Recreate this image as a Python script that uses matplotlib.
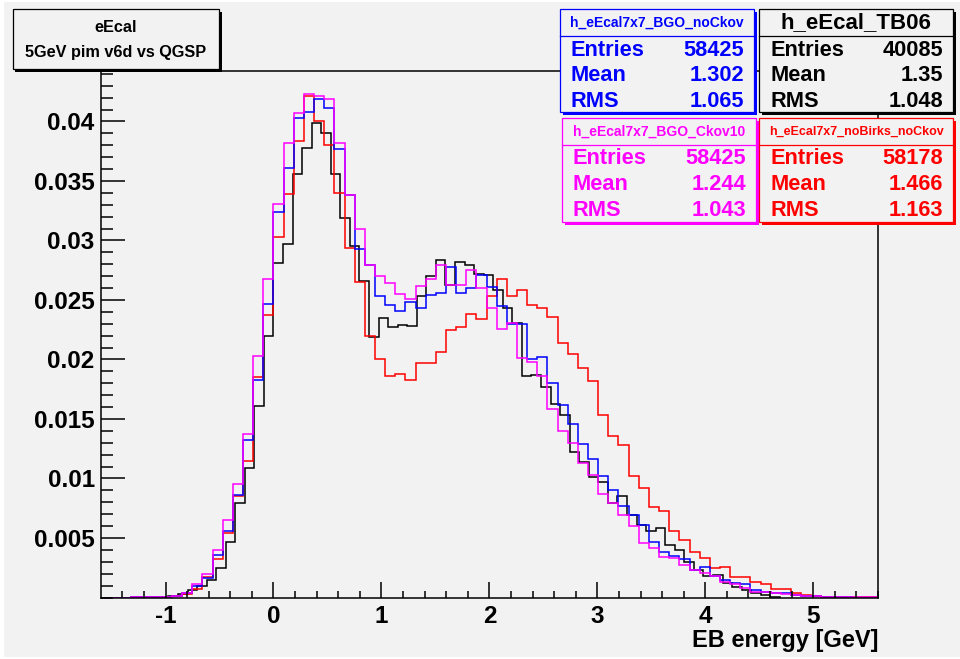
import numpy as np
import matplotlib.pyplot as plt
from matplotlib.patches import Rectangle
from matplotlib.ticker import FixedLocator, MultipleLocator

plt.rcParams['font.family'] = ['Liberation Sans', 'DejaVu Sans']
plt.rcParams['font.weight'] = 'bold'

# -----------------------------
# Histogram contents (normalised)
# -----------------------------
sim_first_edge = -1.598
sim_bin_width = 0.094
tb_first_edge = -1.062
tb_bin_width = 0.0885

bgo_nockov = [
    0, 0, 0, 0.00002, 0.00003, 0.00004, 0.00006, 0.00015, 0.0004, 0.00097,
    0.0016, 0.0036, 0.0056, 0.0086, 0.0132, 0.0183, 0.0247, 0.0324, 0.0361, 0.0403,
    0.0408, 0.0419, 0.0411, 0.0377, 0.0338, 0.0293, 0.0279, 0.0253, 0.0246, 0.0241,
    0.0248, 0.0243, 0.0254, 0.0256, 0.0278, 0.0256, 0.0260, 0.0271, 0.0261, 0.0245,
    0.0230, 0.0230, 0.0200, 0.0202, 0.0180, 0.0162, 0.0146, 0.0129, 0.0116, 0.0102,
    0.0090, 0.0077, 0.0069, 0.0061, 0.0047, 0.0038, 0.0035, 0.0032, 0.0023, 0.0026,
    0.0018, 0.0015, 0.0012, 0.0011, 0.00063, 0.0005, 0.0004, 0.0004, 0.0002, 0.0001,
    0.0001, 0.00005, 0.00003, 0.00002, 0, 0, 0,
]

bgo_ckov10 = [
    0, 0, 0, 0.00002, 0.00003, 0.00004, 0.00006, 0.00015, 0.00035, 0.0011,
    0.00195, 0.0040, 0.0065, 0.0095, 0.0137, 0.0203, 0.0268, 0.0331, 0.0382, 0.0407,
    0.0423, 0.0421, 0.0419, 0.0382, 0.0338, 0.0310, 0.0279, 0.0270, 0.0264, 0.0255,
    0.0251, 0.0262, 0.0268, 0.0279, 0.0263, 0.0263, 0.0275, 0.0260, 0.0243, 0.0226,
    0.0231, 0.0201, 0.0198, 0.0186, 0.0158, 0.0140, 0.0130, 0.0113, 0.0103, 0.0087,
    0.0079, 0.0069, 0.0060, 0.0046, 0.0042, 0.0034, 0.0033, 0.0027, 0.0023, 0.0021,
    0.0018, 0.0013, 0.0011, 0.0008, 0.0005, 0.0005, 0.00035, 0.0003, 0.0002, 0.00015,
    0.0001, 0.00006, 0.00004, 0.00003, 0.00002, 0.00002, 0.00001,
]

nobirks_nockov = [
    0, 0, 0, 0.00001, 0.00002, 0.00003, 0.00005, 0.00013, 0.0003, 0.0007,
    0.00175, 0.0032, 0.0054, 0.0085, 0.0115, 0.0185, 0.0237, 0.0303, 0.0339, 0.0384,
    0.0421, 0.0400, 0.0380, 0.0340, 0.0294, 0.0265, 0.0220, 0.0200, 0.0186, 0.0188,
    0.0183, 0.0197, 0.0197, 0.0206, 0.0225, 0.0227, 0.0238, 0.0234, 0.0253, 0.0268,
    0.0253, 0.0258, 0.0246, 0.0243, 0.0236, 0.0214, 0.0205, 0.0193, 0.0182, 0.0153,
    0.0136, 0.0128, 0.0102, 0.0092, 0.0076, 0.0073, 0.0056, 0.0048, 0.0038, 0.0033,
    0.0025, 0.0026, 0.0017, 0.0017, 0.0013, 0.0011, 0.0007, 0.00075, 0.00035, 0.0002,
    0.0001, 0.00004, 0.00002, 0.00001, 0.00001, 0.00001, 0.00001,
]

tb06 = [
    0.00005, 0.00013, 0.0003, 0.0006, 0.00097, 0.0015, 0.0025, 0.0047, 0.0079, 0.0109,
    0.0161, 0.0220, 0.0281, 0.0297, 0.0356, 0.0378, 0.0399, 0.0390, 0.0356, 0.0319,
    0.0295, 0.0266, 0.0219, 0.0235, 0.0227, 0.0229, 0.0228, 0.0253, 0.0270, 0.0284,
    0.0263, 0.0282, 0.0279, 0.0272, 0.0271, 0.0258, 0.0243, 0.0231, 0.0186, 0.0187,
    0.0177, 0.0163, 0.0153, 0.0122, 0.0114, 0.0101, 0.0097, 0.0079, 0.0085, 0.0069,
    0.0061, 0.0056, 0.0058, 0.0044, 0.0040, 0.0030, 0.0023, 0.0018, 0.0019, 0.0012,
    0.00086, 0.00063, 0.00035, 0.0002, 0.00005,
]

# stat boxes
stat_names = ["h_eEcal7x7_BGO_noCkov", "h_eEcal_TB06",
              "h_eEcal7x7_BGO_Ckov10", "h_eEcal7x7_noBirks_noCkov"]
stat_entries = ["58425", "40085", "58425", "58178"]
stat_means = ["1.302", "1.35", "1.244", "1.466"]
stat_rms = ["1.065", "1.048", "1.043", "1.163"]
stat_colors = ["#0000ff", "#000000", "#ff00ff", "#ff0000"]

y_ticks = [0.005, 0.01, 0.015, 0.02, 0.025, 0.03, 0.035, 0.04]
y_ticklabels = ["0.005", "0.01", "0.015", "0.02", "0.025", "0.03", "0.035", "0.04"]
x_ticks = [-1, 0, 1, 2, 3, 4, 5]

# -----------------------------
# Figure
# -----------------------------
W, H = 960, 659
BG = "#f2f2f2"
fig = plt.figure(figsize=(W / 100, H / 100), dpi=100, facecolor="white")


def fx(px):
    return px / W


def fy(py):
    return 1 - py / H


# grey canvas
fig.patches.append(Rectangle((fx(4), fy(657)), fx(956), 655 / H,
                             transform=fig.transFigure, facecolor=BG,
                             edgecolor="none", zorder=-10))

ax = fig.add_axes([fx(101), fy(597.5), fx(878 - 101), (597.5 - 71) / H])
ax.set_facecolor(BG)

sim_edges = sim_first_edge + sim_bin_width * np.arange(len(bgo_nockov) + 1)
tb_edges = tb_first_edge + tb_bin_width * np.arange(len(tb06) + 1)

ax.stairs(tb06, tb_edges, color="black", linewidth=1.1)
ax.stairs(nobirks_nockov, sim_edges, color="#ff0000", linewidth=1.1)
ax.stairs(bgo_nockov, sim_edges, color="#0000ff", linewidth=1.1)
ax.stairs(bgo_ckov10, sim_edges, color="#ff00ff", linewidth=1.1)

ax.set_xlim(-1.598, 5.6)
ax.set_ylim(0, 0.04424)

for s in ax.spines.values():
    s.set_linewidth(1.1)

ax.yaxis.set_major_locator(FixedLocator(y_ticks))
ax.set_yticklabels(y_ticklabels)
ax.yaxis.set_minor_locator(MultipleLocator(0.001))
ax.xaxis.set_major_locator(FixedLocator(x_ticks))
ax.set_xticklabels([str(v) for v in x_ticks])
ax.xaxis.set_minor_locator(MultipleLocator(0.2))

ax.tick_params(axis="y", which="major", direction="in", length=17, width=1.1,
               pad=4.5, labelsize=17.5)
ax.tick_params(axis="y", which="minor", direction="in", length=8.5, width=1.1)
ax.tick_params(axis="x", which="major", direction="in", length=11.4, width=1.1,
               pad=5.5, labelsize=17.5)
ax.tick_params(axis="x", which="minor", direction="in", length=5.4, width=1.1)
for lab in ax.get_xticklabels() + ax.get_yticklabels():
    lab.set_fontweight("bold")

ax.set_xlabel("EB energy [GeV]", fontsize=17, fontweight="bold")
ax.xaxis.set_label_coords(1.0, -(641 - 597.5) / (597.5 - 71))
ax.xaxis.label.set_ha("right")
ax.xaxis.label.set_va("center")


# -----------------------------
# Boxes
# -----------------------------
def draw_box(x0, y0, x1, y1, color, shadow=3):
    fig.patches.append(Rectangle((fx(x0 + shadow), fy(y1 + shadow)), fx(x1 - x0), (y1 - y0) / H,
                                 transform=fig.transFigure, facecolor=color,
                                 edgecolor="none", zorder=5))
    fig.patches.append(Rectangle((fx(x0), fy(y1)), fx(x1 - x0), (y1 - y0) / H,
                                 transform=fig.transFigure, facecolor=BG,
                                 edgecolor=color, linewidth=0.9, zorder=6))


# title pave
draw_box(12.7, 9.3, 219, 69, "black", shadow=2.5)
fig.text(fx(116), fy(27), "eEcal", ha="center", va="center", fontsize=11.7,
         fontweight="bold", zorder=7)
fig.text(fx(116), fy(53), "5GeV pim v6d vs QGSP", ha="center", va="center",
         fontsize=11.7, fontweight="bold", zorder=7)

box_x = [(560, 754), (759, 953), (562, 756), (759, 953)]
box_y = [(9.3, 112), (9.3, 112), (118, 222), (118, 222)]
title_sizes = [10, 16, 10, 9]

for i in range(4):
    x0, x1 = box_x[i]
    y0, y1 = box_y[i]
    c = stat_colors[i]
    draw_box(x0, y0, x1, y1, c)
    sep = y0 + 26.5
    fig.add_artist(plt.Line2D([fx(x0), fx(x1)], [fy(sep), fy(sep)], color=c,
                              linewidth=0.9, transform=fig.transFigure, zorder=7))
    fig.text(fx((x0 + x1) / 2), fy(y0 + 13.5), stat_names[i], color=c, ha="center",
             va="center", fontsize=title_sizes[i], fontweight="bold", zorder=8)
    rows = [("Entries", stat_entries[i]), ("Mean", stat_means[i]), ("RMS", stat_rms[i])]
    for r, (lab, val) in enumerate(rows):
        yy = y0 + 41 + 25.5 * r
        fig.text(fx(x0 + 11), fy(yy), lab, color=c, ha="left", va="center",
                 fontsize=15.7, fontweight="bold", zorder=8)
        fig.text(fx(x1 - 10), fy(yy), val, color=c, ha="right", va="center",
                 fontsize=15.7, fontweight="bold", zorder=8)

fig.savefig("out.png", dpi=100, facecolor="white")
